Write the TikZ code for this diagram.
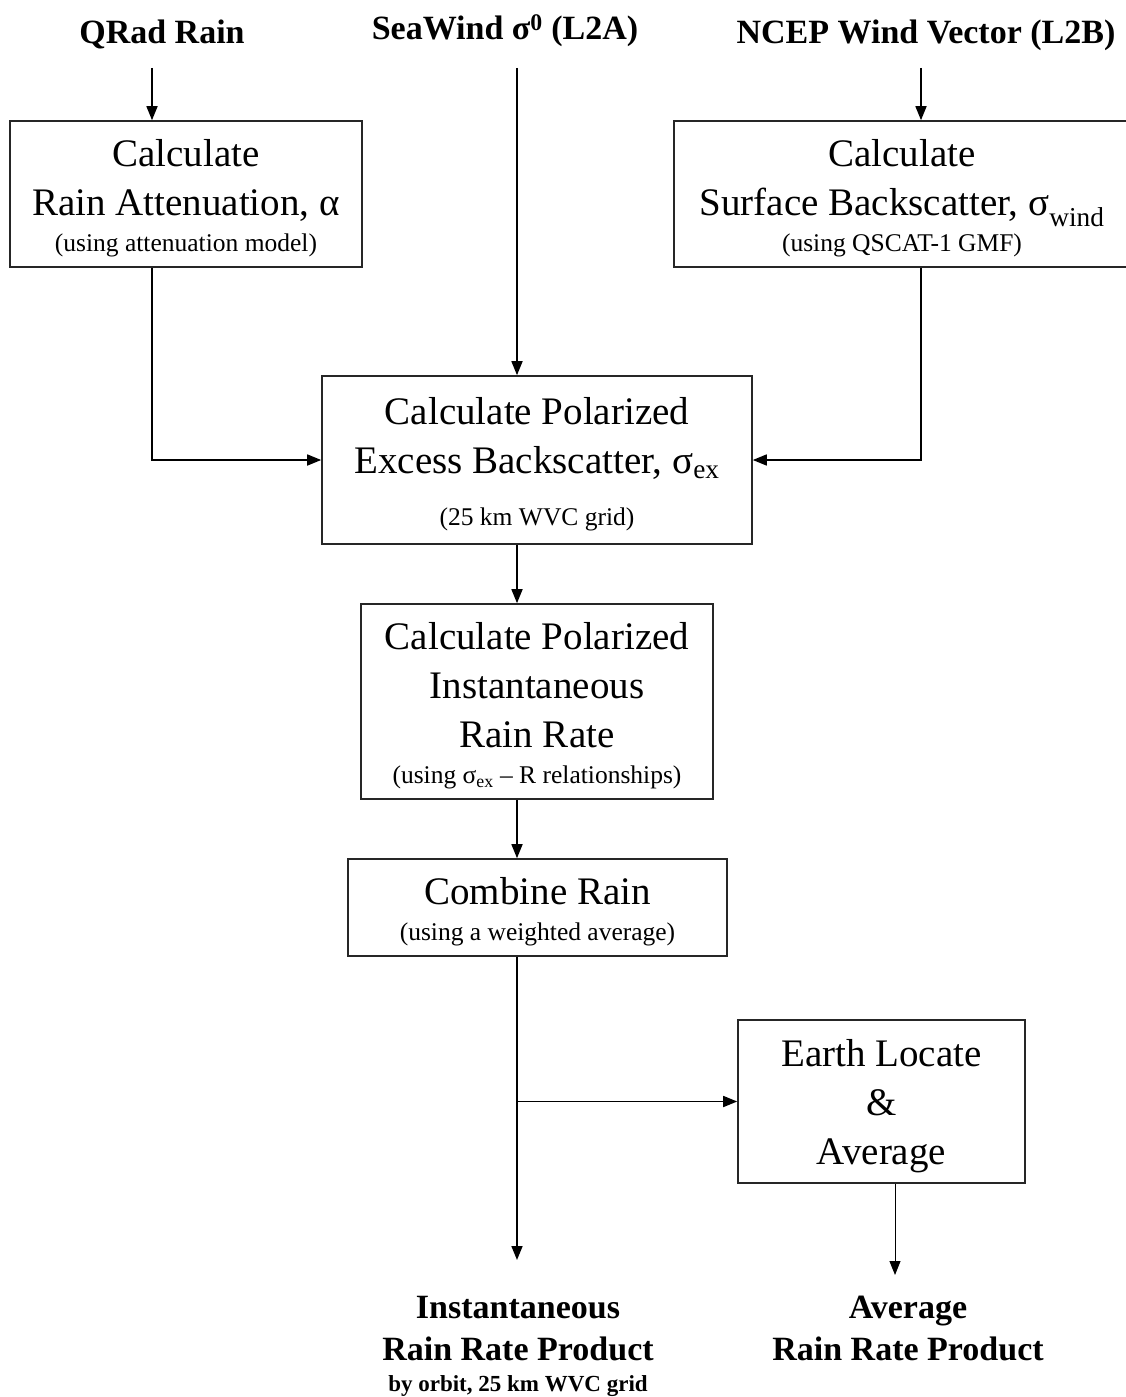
\documentclass[tikz,border=0pt]{standalone}
\usepackage{fontspec}
\setmainfont{Liberation Serif}
\usetikzlibrary{arrows.meta}

\newcommand{\bigfs}{\fontsize{39}{49}\selectfont}
\newcommand{\smallfs}{\fontsize{25.5}{30}\selectfont}
\newcommand{\headfs}{\fontsize{34}{42}\selectfont\bfseries}
\newcommand{\notefs}{\fontsize{23}{28}\selectfont\bfseries}
\newcommand{\topstrut}{\rule{0pt}{36pt}}

\tikzset{
  stepbox/.style={draw=black!85, line width=1.6pt, align=center, font=\bigfs, inner sep=0pt},
  heading/.style={font=\headfs, align=center, inner sep=0pt},
  flow/.style={line width=1.6pt, -{Triangle[length=14pt,width=11pt]}},
}

\begin{document}
\begin{tikzpicture}[x=1pt,y=-1pt]
\useasboundingbox (0,0) rectangle (1126,1397);
% x positions of the vertical feeds
\coordinate (xa) at (152,0);
\coordinate (xs) at (517,0);
\coordinate (xn) at (921,0);
\coordinate (xf) at (895,0);

% inputs
\node[heading, anchor=base] (qrad) at (162,44) {QRad Rain};
\node[heading, anchor=base] (seawind) at (505,40) {SeaWind σ\textsuperscript{0} (L2A)};
\node[heading, anchor=base] (ncep) at (926,44) {NCEP Wind Vector (L2B)};

% processing steps
\node[stepbox, minimum width=352pt, minimum height=146pt] (atten) at (186,194)
  {\topstrut Calculate\\Rain Attenuation, α\\[-13pt]{\smallfs (using attenuation model)}};
\node[stepbox, minimum width=456pt, minimum height=146pt] (surf) at (902,194)
  {\topstrut Calculate\\Surface Backscatter, σ\textsubscript{wind}\\[-13pt]{\smallfs (using QSCAT-1 GMF)}};
\node[stepbox, minimum width=430pt, minimum height=168pt] (exc) at (537,460)
  {\topstrut Calculate Polarized\\Excess Backscatter, σ\textsubscript{ex}\\[3pt]{\smallfs (25 km WVC grid)}};
\node[stepbox, minimum width=352pt, minimum height=195pt] (inst) at (537,701.5)
  {\topstrut Calculate Polarized\\Instantaneous\\Rain Rate\\[-13pt]{\smallfs (using σ\textsubscript{ex} -- R relationships)}};
\node[stepbox, minimum width=379pt, minimum height=97pt] (comb) at (537.5,907.5)
  {\topstrut Combine Rain\\[-13pt]{\smallfs (using a weighted average)}};
\node[stepbox, minimum width=287pt, minimum height=163pt] (earth) at (881.5,1101.5)
  {\topstrut Earth Locate\\\&\\Average};

% products
\node[heading, anchor=north] (instlab) at (518,1296)
  {Instantaneous\\Rain Rate Product\\[-11pt]{\notefs by orbit, 25 km WVC grid}};
\node[heading, anchor=north] (avglab) at (908,1296)
  {Average\\Rain Rate Product};

% connectors
\draw[flow] ([yshift=-24pt]qrad.base -| xa) -- (atten.north -| xa);
\draw[flow] ([yshift=-28pt]seawind.base -| xs) -- (exc.north -| xs);
\draw[flow] ([yshift=-24pt]ncep.base -| xn) -- (surf.north -| xn);
\draw[flow] (atten.south -| xa) |- (exc.west);
\draw[flow] (surf.south -| xn) |- (exc.east);
\draw[flow] (exc.south -| xs) -- (inst.north -| xs);
\draw[flow] (inst.south -| xs) -- (comb.north -| xs);
\draw[flow] (comb.south -| xs) -- ([yshift=36pt]instlab.north -| xs);
\draw[flow] (xs |- earth.west) -- (earth.west);
\draw[flow, line width=1pt] (earth.south -| xf) -- ([yshift=21pt]avglab.north -| xf);
\end{tikzpicture}
\end{document}
